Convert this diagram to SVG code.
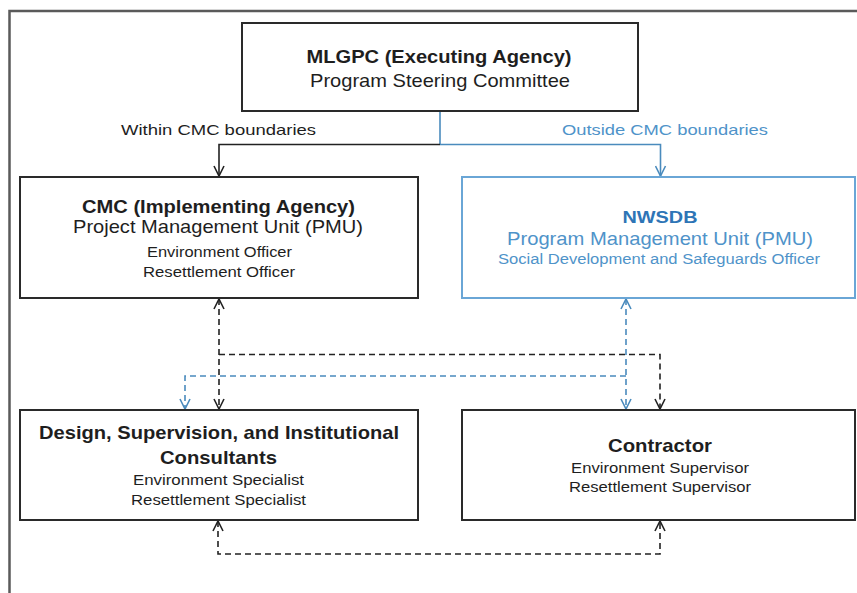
<svg xmlns="http://www.w3.org/2000/svg" width="857" height="593" viewBox="0 0 857 593">
<defs>
<style>
text{font-family:"Liberation Sans",Arial,sans-serif;text-anchor:middle;fill:#1e1e1e}
.b{font-weight:bold}
.box{fill:#fff;stroke:#2a2a2a;stroke-width:2}
.bbox{fill:#fff;stroke:#6aa6d6;stroke-width:2}
.ln{fill:none;stroke:#222;stroke-width:1.6}
.lnb{fill:none;stroke:#4a8bbd;stroke-width:1.6}
.d{stroke-dasharray:6 4}
.blue{fill:#4f93c9}
</style>
<marker id="ak" viewBox="0 0 12 12" refX="11" refY="6" markerWidth="12" markerHeight="12" markerUnits="userSpaceOnUse" orient="auto-start-reverse">
<path d="M1,1 L11,6 L1,11" fill="none" stroke="#222" stroke-width="1.6"/>
</marker>
<marker id="ab" viewBox="0 0 12 12" refX="11" refY="6" markerWidth="12" markerHeight="12" markerUnits="userSpaceOnUse" orient="auto-start-reverse">
<path d="M1,1 L11,6 L1,11" fill="none" stroke="#4a8bbd" stroke-width="1.6"/>
</marker>
</defs>
<rect x="0" y="0" width="857" height="593" fill="#fff"/>
<path d="M9.5,593 V11 H857" fill="none" stroke="#5a5a5a" stroke-width="2.5"/>

<g id="connectors">
<path class="lnb" d="M440,111 V144.5"/>
<path class="ln" d="M440,144.5 H219 V176" marker-end="url(#ak)"/>
<path class="lnb" d="M440,144.5 H660.5 V176" marker-end="url(#ab)"/>
<path class="ln d" d="M219,299 V409" marker-start="url(#ak)" marker-end="url(#ak)"/>
<path class="ln d" d="M219,354.5 H660 V409" marker-end="url(#ak)"/>
<path class="lnb d" d="M626,299 V409" marker-start="url(#ab)" marker-end="url(#ab)"/>
<path class="lnb d" d="M626,376 H185 V409" marker-end="url(#ab)"/>
<path class="ln d" d="M218,521 V554 H660 V521" marker-start="url(#ak)" marker-end="url(#ak)"/>
</g>

<g id="label-within"><text x="218.5" y="135" font-size="15" textLength="195" lengthAdjust="spacingAndGlyphs">Within CMC boundaries</text></g>
<g id="label-outside"><text x="665" y="135" font-size="15" class="blue" textLength="206" lengthAdjust="spacingAndGlyphs">Outside CMC boundaries</text></g>

<g id="mlgpc">
<rect class="box" x="242" y="23" width="396" height="88"/>
<text class="b" x="439" y="63" font-size="19" textLength="265" lengthAdjust="spacingAndGlyphs">MLGPC (Executing Agency)</text>
<text x="440" y="87" font-size="19" textLength="260" lengthAdjust="spacingAndGlyphs">Program Steering Committee</text>
</g>

<g id="cmc">
<rect class="box" x="20" y="177" width="398" height="121"/>
<text class="b" x="218.5" y="213" font-size="19" textLength="273" lengthAdjust="spacingAndGlyphs">CMC (Implementing Agency)</text>
<text x="218" y="233" font-size="19" textLength="290" lengthAdjust="spacingAndGlyphs">Project Management Unit (PMU)</text>
<text x="219.5" y="257" font-size="14" textLength="145" lengthAdjust="spacingAndGlyphs">Environment Officer</text>
<text x="219" y="277" font-size="14" textLength="152" lengthAdjust="spacingAndGlyphs">Resettlement Officer</text>
</g>

<g id="nwsdb">
<rect class="bbox" x="462" y="177" width="393" height="121"/>
<text class="b" x="660" y="223" font-size="17" fill="#2e75b6" style="fill:#2e75b6" textLength="75" lengthAdjust="spacingAndGlyphs">NWSDB</text>
<text class="blue" x="660" y="245" font-size="19" textLength="306" lengthAdjust="spacingAndGlyphs">Program Management Unit (PMU)</text>
<text class="blue" x="659" y="264" font-size="14" textLength="322" lengthAdjust="spacingAndGlyphs">Social Development and Safeguards Officer</text>
</g>

<g id="consultants">
<rect class="box" x="20" y="410" width="398" height="110"/>
<text class="b" x="219" y="439" font-size="19" textLength="360" lengthAdjust="spacingAndGlyphs">Design, Supervision, and Institutional</text>
<text class="b" x="218.5" y="464" font-size="19" textLength="117" lengthAdjust="spacingAndGlyphs">Consultants</text>
<text x="218.5" y="485" font-size="14" textLength="171" lengthAdjust="spacingAndGlyphs">Environment Specialist</text>
<text x="218.5" y="505" font-size="14" textLength="175" lengthAdjust="spacingAndGlyphs">Resettlement Specialist</text>
</g>

<g id="contractor">
<rect class="box" x="462" y="410" width="393" height="110"/>
<text class="b" x="660" y="452" font-size="19" textLength="104" lengthAdjust="spacingAndGlyphs">Contractor</text>
<text x="660" y="473" font-size="14" textLength="178" lengthAdjust="spacingAndGlyphs">Environment Supervisor</text>
<text x="660" y="492" font-size="14" textLength="182" lengthAdjust="spacingAndGlyphs">Resettlement Supervisor</text>
</g>
</svg>
